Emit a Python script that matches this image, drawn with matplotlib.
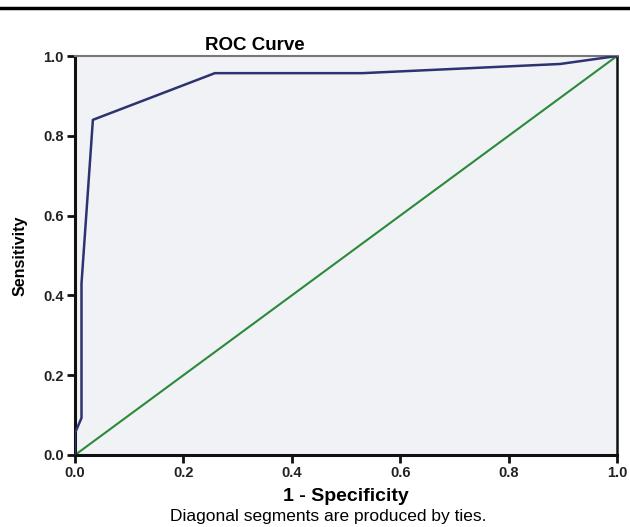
import matplotlib
matplotlib.use("Agg")
import matplotlib.pyplot as plt
from matplotlib.lines import Line2D

plt.rcParams['font.family'] = ['Liberation Sans', 'DejaVu Sans']

fpr = [0.0, 0.0, 0.012, 0.012, 0.033, 0.258, 0.53, 0.895, 1.0]
tpr = [0.0, 0.055, 0.093, 0.43, 0.84, 0.957, 0.957, 0.98, 1.0]
ref = [0.0, 1.0]
ticks = [0.0, 0.2, 0.4, 0.6, 0.8, 1.0]
tick_labels = ["0.0", "0.2", "0.4", "0.6", "0.8", "1.0"]

fig = plt.figure(figsize=(6.3, 5.27), dpi=100)
ax = fig.add_axes([75/630, 1-455/527, (617-75)/630, (455-56)/527])
ax.set_facecolor('#f1f2f6')

ax.plot(ref, ref, color='#2a8a3a', lw=1.5, zorder=2)
ax.plot(fpr, tpr, color='#2d3270', lw=1.8, zorder=3)

ax.set_xlim(0, 1)
ax.set_ylim(0, 1)
ax.set_xticks(ticks)
ax.set_xticklabels(tick_labels, fontweight='bold', fontsize=10.5)
ax.set_yticks(ticks)
ax.set_yticklabels(tick_labels, fontweight='bold', fontsize=10.5)
ax.tick_params(axis='both', direction='out', length=6, width=2, colors='#111111', pad=2)
for lab in ax.get_xticklabels() + ax.get_yticklabels():
    lab.set_color('#222222')

for s in ['left', 'bottom']:
    ax.spines[s].set_linewidth(2.2)
    ax.spines[s].set_color('#111111')
ax.spines['right'].set_linewidth(1.8)
ax.spines['right'].set_color('#111111')
ax.spines['top'].set_linewidth(1.5)
ax.spines['top'].set_color('#777777')

ax.set_title("ROC Curve", fontweight='bold', fontsize=13.5, x=(255-75)/542, pad=4)
ax.set_xlabel("1 - Specificity", fontweight='bold', fontsize=14, labelpad=6)
ax.set_ylabel("Sensitivity", fontweight='bold', fontsize=11.5, labelpad=11)
fig.text(0.5 + (328-315)/630, 1-517/527, "Diagonal segments are produced by ties.",
         ha='center', va='center', fontsize=12.5)

fig.add_artist(Line2D([0, 1], [1-8/527, 1-8/527], color='black', lw=2.5, transform=fig.transFigure))

fig.savefig("out.png", dpi=100, facecolor='white')
